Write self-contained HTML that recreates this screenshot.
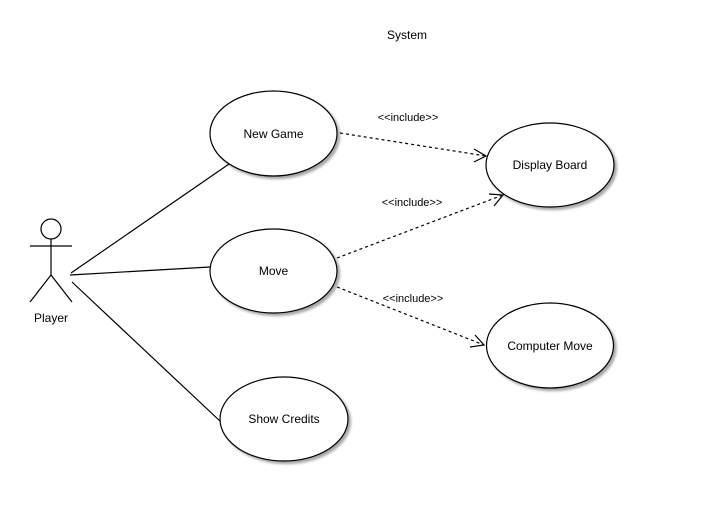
<!DOCTYPE html>
<html><head><style>
body{margin:0;background:#fff;}
svg{display:block;font-family:"Liberation Sans",Arial,sans-serif;}
</style></head><body>
<svg width="717" height="525" viewBox="0 0 717 525">
<defs>
<filter id="sh" x="-20%" y="-20%" width="140%" height="140%">
<feGaussianBlur in="SourceAlpha" stdDeviation="1.2"/>
<feOffset dx="2.5" dy="2.5"/>
<feComponentTransfer><feFuncA type="linear" slope="0.35"/></feComponentTransfer>
<feMerge><feMergeNode/><feMergeNode in="SourceGraphic"/></feMerge>
</filter>
</defs>
<text x="407" y="39" font-size="12" text-anchor="middle">System</text>
<g stroke="#000" stroke-width="1.2" fill="none">
<circle cx="51" cy="229" r="10"/>
<line x1="30" y1="246" x2="72" y2="246"/>
<line x1="51" y1="239" x2="51" y2="275"/>
<line x1="51" y1="275" x2="30" y2="302"/>
<line x1="51" y1="275" x2="72" y2="302"/>
<line x1="71" y1="273" x2="229" y2="164"/>
<line x1="70" y1="275" x2="210" y2="267"/>
<line x1="72" y1="282" x2="221" y2="422"/>
</g>
<text x="51" y="322" font-size="12" text-anchor="middle">Player</text>
<g stroke="#000" stroke-width="1.2" fill="none" stroke-dasharray="3,3">
<line x1="340" y1="133" x2="486" y2="156"/>
<line x1="337" y1="258" x2="503" y2="195"/>
<line x1="337" y1="287" x2="484" y2="345"/>
</g>
<g stroke="#000" stroke-width="1.2" fill="none">
<polyline points="474,149 486,156 474,162"/>
<polyline points="489,194 503,195 494,206"/>
<polyline points="475,335 484,345 470,347"/>
</g>
<g font-size="11" text-anchor="middle">
<text x="408" y="121">&lt;&lt;include&gt;&gt;</text>
<text x="412" y="206">&lt;&lt;include&gt;&gt;</text>
<text x="413" y="302">&lt;&lt;include&gt;&gt;</text>
</g>
<g fill="#fff" stroke="#000" stroke-width="1.2" filter="url(#sh)">
<ellipse cx="273.5" cy="133.5" rx="63.5" ry="42.5"/>
<ellipse cx="273.5" cy="271" rx="63.5" ry="42"/>
<ellipse cx="550" cy="165" rx="64" ry="42"/>
<ellipse cx="550" cy="345.5" rx="63.5" ry="42.5"/>
<ellipse cx="284" cy="419" rx="64" ry="42"/>
</g>
<g font-size="12" text-anchor="middle">
<text x="273.5" y="138">New Game</text>
<text x="273.5" y="275">Move</text>
<text x="550" y="169">Display Board</text>
<text x="550" y="350">Computer Move</text>
<text x="284" y="423">Show Credits</text>
</g>
</svg>
</body></html>
